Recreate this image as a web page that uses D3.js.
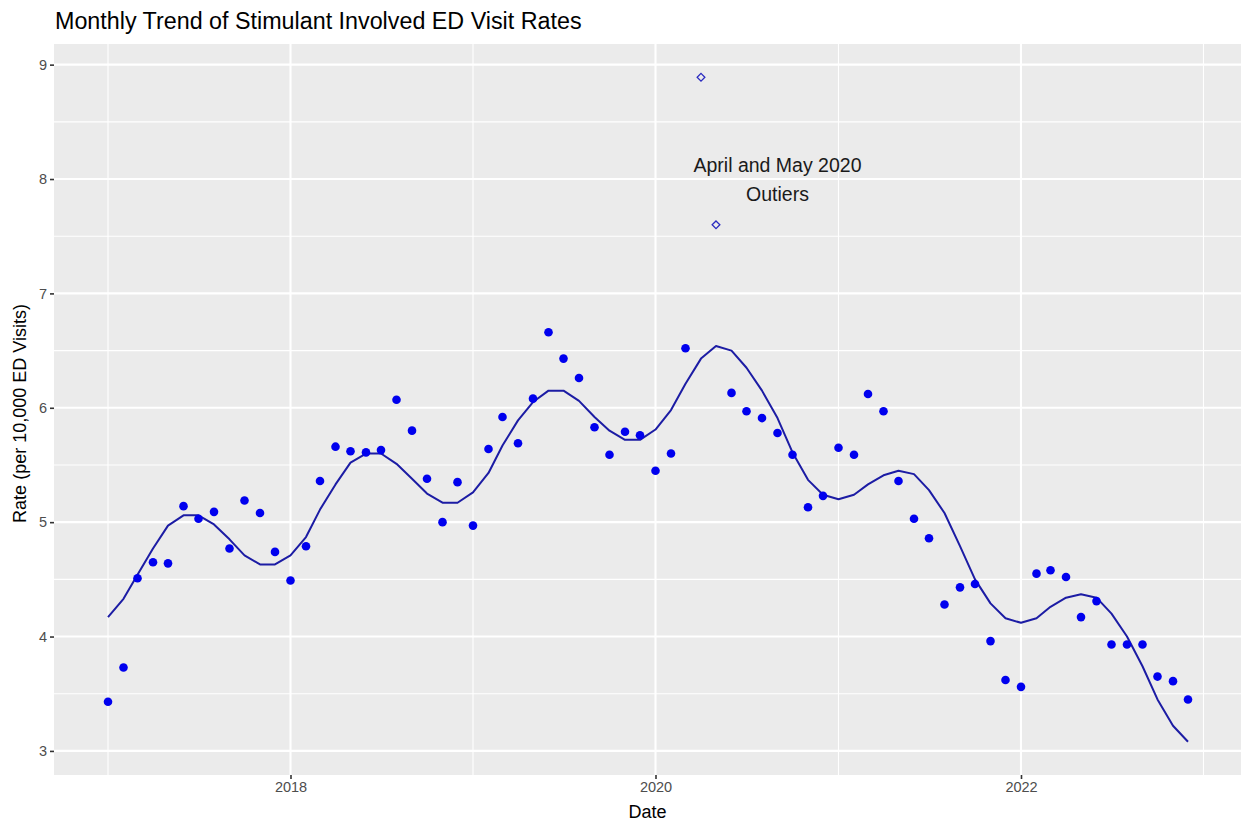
<!DOCTYPE html>
<html>
<head>
<meta charset="utf-8">
<script src="https://cdn.jsdelivr.net/npm/d3@7"></script>
<style>
  html, body { margin: 0; padding: 0; background: #ffffff; }
  svg { display: block; font-family: "Liberation Sans", Arial, Helvetica, sans-serif; }
</style>
</head>
<body>
<svg id="chart" width="1241" height="827"></svg>
<script>
// ---------------- DATA ----------------
const months = [
  "2017-01","2017-02","2017-03","2017-04","2017-05","2017-06","2017-07","2017-08","2017-09","2017-10","2017-11","2017-12",
  "2018-01","2018-02","2018-03","2018-04","2018-05","2018-06","2018-07","2018-08","2018-09","2018-10","2018-11","2018-12",
  "2019-01","2019-02","2019-03","2019-04","2019-05","2019-06","2019-07","2019-08","2019-09","2019-10","2019-11","2019-12",
  "2020-01","2020-02","2020-03","2020-04","2020-05","2020-06","2020-07","2020-08","2020-09","2020-10","2020-11","2020-12",
  "2021-01","2021-02","2021-03","2021-04","2021-05","2021-06","2021-07","2021-08","2021-09","2021-10","2021-11","2021-12",
  "2022-01","2022-02","2022-03","2022-04","2022-05","2022-06","2022-07","2022-08","2022-09","2022-10","2022-11","2022-12"
];
const rates = [
  3.43, 3.73, 4.51, 4.65, 4.64, 5.14, 5.03, 5.09, 4.77, 5.19, 5.08, 4.74,
  4.49, 4.79, 5.36, 5.66, 5.62, 5.61, 5.63, 6.07, 5.80, 5.38, 5.00, 5.35,
  4.97, 5.64, 5.92, 5.69, 6.08, 6.66, 6.43, 6.26, 5.83, 5.59, 5.79, 5.76,
  5.45, 5.60, 6.52, 8.89, 7.60, 6.13, 5.97, 5.91, 5.78, 5.59, 5.13, 5.23,
  5.65, 5.59, 6.12, 5.97, 5.36, 5.03, 4.86, 4.28, 4.43, 4.46, 3.96, 3.62,
  3.56, 4.55, 4.58, 4.52, 4.17, 4.31, 3.93, 3.93, 3.93, 3.65, 3.61, 3.45
];
const fitted = [
  4.17, 4.33, 4.54, 4.77, 4.97, 5.06, 5.06, 4.98, 4.85, 4.71, 4.63, 4.63,
  4.71, 4.87, 5.11, 5.33, 5.52, 5.60, 5.60, 5.51, 5.38, 5.25, 5.17, 5.17,
  5.26, 5.43, 5.67, 5.89, 6.05, 6.15, 6.15, 6.06, 5.92, 5.80, 5.72, 5.72,
  5.81, 5.98, 6.21, 6.43, 6.54, 6.50, 6.35, 6.15, 5.91, 5.61, 5.37, 5.24,
  5.20, 5.24, 5.33, 5.41, 5.45, 5.42, 5.28, 5.08, 4.79, 4.50, 4.29, 4.16,
  4.12, 4.16, 4.26, 4.34, 4.37, 4.34, 4.20, 4.00, 3.74, 3.45, 3.22, 3.08
];
const outlierMonths = ["2020-04", "2020-05"];
const xMajorTicks = ["2018-01-01", "2020-01-01", "2022-01-01"];
const xMinorTicks = ["2017-01-01", "2019-01-01", "2021-01-01", "2023-01-01"];
const xTickLabels = ["2018", "2020", "2022"];
const yMajorTicks = [3, 4, 5, 6, 7, 8, 9];
const yMinorTicks = [3.5, 4.5, 5.5, 6.5, 7.5, 8.5];
const annotationLines = ["April and May 2020", "Outiers"];
const annotationPos = { date: "2020-09-01", value: 8.0 };
const titleText = "Monthly Trend of Stimulant Involved ED Visit Rates";
const xTitle = "Date";
const yTitle = "Rate (per 10,000 ED Visits)";

// ---------------- BUILD ----------------
const parseMonth = d3.utcParse("%Y-%m");
const parseDay = d3.utcParse("%Y-%m-%d");
const data = months.map((m, i) => ({
  date: parseMonth(m), rate: rates[i], fit: fitted[i], outlier: outlierMonths.includes(m)
}));

const svg = d3.select("#chart");
const W = 1241, H = 827;
const panel = { left: 54, top: 44, right: 1242, bottom: 775 };

// ggplot-like 5% expansion
const dExt = d3.extent(data, d => d.date);
const dSpan = dExt[1] - dExt[0];
const x = d3.scaleUtc()
  .domain([new Date(+dExt[0] - 0.05 * dSpan), new Date(+dExt[1] + 0.05 * dSpan)])
  .range([panel.left, panel.right]);
const allVals = rates.concat(fitted);
const vMin = d3.min(allVals), vMax = d3.max(allVals);
const vSpan = vMax - vMin;
const y = d3.scaleLinear()
  .domain([vMin - 0.05 * vSpan, vMax + 0.05 * vSpan])
  .range([panel.bottom, panel.top]);

// clip
svg.append("defs").append("clipPath").attr("id", "pclip")
  .append("rect").attr("x", panel.left).attr("y", panel.top)
  .attr("width", panel.right - panel.left).attr("height", panel.bottom - panel.top);

// panel background
svg.append("rect").attr("x", panel.left).attr("y", panel.top)
  .attr("width", panel.right - panel.left).attr("height", panel.bottom - panel.top)
  .attr("fill", "#EBEBEB");

const grid = svg.append("g").attr("clip-path", "url(#pclip)");
// minor grid
grid.selectAll("line.ymin").data(yMinorTicks).enter().append("line")
  .attr("x1", panel.left).attr("x2", panel.right)
  .attr("y1", d => y(d)).attr("y2", d => y(d))
  .attr("stroke", "#ffffff").attr("stroke-width", 1.1);
grid.selectAll("line.xmin").data(xMinorTicks).enter().append("line")
  .attr("y1", panel.top).attr("y2", panel.bottom)
  .attr("x1", d => x(parseDay(d))).attr("x2", d => x(parseDay(d)))
  .attr("stroke", "#ffffff").attr("stroke-width", 1.1);
// major grid
grid.selectAll("line.ymaj").data(yMajorTicks).enter().append("line")
  .attr("x1", panel.left).attr("x2", panel.right)
  .attr("y1", d => y(d)).attr("y2", d => y(d))
  .attr("stroke", "#ffffff").attr("stroke-width", 2.1);
grid.selectAll("line.xmaj").data(xMajorTicks).enter().append("line")
  .attr("y1", panel.top).attr("y2", panel.bottom)
  .attr("x1", d => x(parseDay(d))).attr("x2", d => x(parseDay(d)))
  .attr("stroke", "#ffffff").attr("stroke-width", 2.1);

// axes
const yAxis = d3.axisLeft(y).tickValues(yMajorTicks).tickSize(4).tickPadding(3)
  .tickFormat(d3.format("d"));
const gy = svg.append("g").attr("transform", `translate(${panel.left},0)`).call(yAxis);
gy.select(".domain").remove();
gy.selectAll(".tick line").attr("stroke", "#333333").attr("stroke-width", 1.6);
gy.selectAll(".tick text").attr("fill", "#4D4D4D").style("font-size", "14.5px")
  .style("font-family", "'Liberation Sans', Arial, sans-serif");

const xAxis = d3.axisBottom(x).tickValues(xMajorTicks.map(parseDay)).tickSize(4).tickPadding(3)
  .tickFormat((d, i) => xTickLabels[i]);
const gx = svg.append("g").attr("transform", `translate(0,${panel.bottom})`).call(xAxis);
gx.select(".domain").remove();
gx.selectAll(".tick line").attr("stroke", "#333333").attr("stroke-width", 1.6);
gx.selectAll(".tick text").attr("fill", "#4D4D4D").style("font-size", "14.5px")
  .style("font-family", "'Liberation Sans', Arial, sans-serif");

const plot = svg.append("g").attr("clip-path", "url(#pclip)");

// fitted line
const line = d3.line().x(d => x(d.date)).y(d => y(d.fit));
plot.append("path").datum(data).attr("d", line)
  .attr("fill", "none").attr("stroke", "#1c1ca4").attr("stroke-width", 2)
  .attr("stroke-linejoin", "round");

// regular points
plot.selectAll("circle.pt").data(data.filter(d => !d.outlier)).enter().append("circle")
  .attr("cx", d => x(d.date)).attr("cy", d => y(d.rate)).attr("r", 4.3)
  .attr("fill", "#0000EE");

// outlier diamonds
const diamond = d3.symbol().type(d3.symbolDiamond2).size(38);
plot.selectAll("path.out").data(data.filter(d => d.outlier)).enter().append("path")
  .attr("d", diamond)
  .attr("transform", d => `translate(${x(d.date)},${y(d.rate)})`)
  .attr("fill", "none").attr("stroke", "#2a2ac0").attr("stroke-width", 1.3);

// annotation
const ax = x(parseDay(annotationPos.date)), ay = y(annotationPos.value);
const ann = svg.append("text").attr("text-anchor", "middle")
  .attr("fill", "#1a1a1a").style("font-size", "19.5px");
ann.selectAll("tspan").data(annotationLines).enter().append("tspan")
  .attr("x", ax).attr("y", (d, i) => ay - 7 + i * 28.5).text(d => d);

// titles
svg.append("text").attr("x", 55).attr("y", 29).attr("fill", "#000000")
  .style("font-size", "23.3px").text(titleText);
svg.append("text").attr("x", (panel.left + W) / 2).attr("y", 818)
  .attr("text-anchor", "middle").attr("fill", "#000000").style("font-size", "18px").text(xTitle);
svg.append("text").attr("transform", `translate(26,${(panel.top + panel.bottom) / 2 + 4}) rotate(-90)`)
  .attr("text-anchor", "middle").attr("fill", "#000000").style("font-size", "18px").text(yTitle);
</script>
</body>
</html>
